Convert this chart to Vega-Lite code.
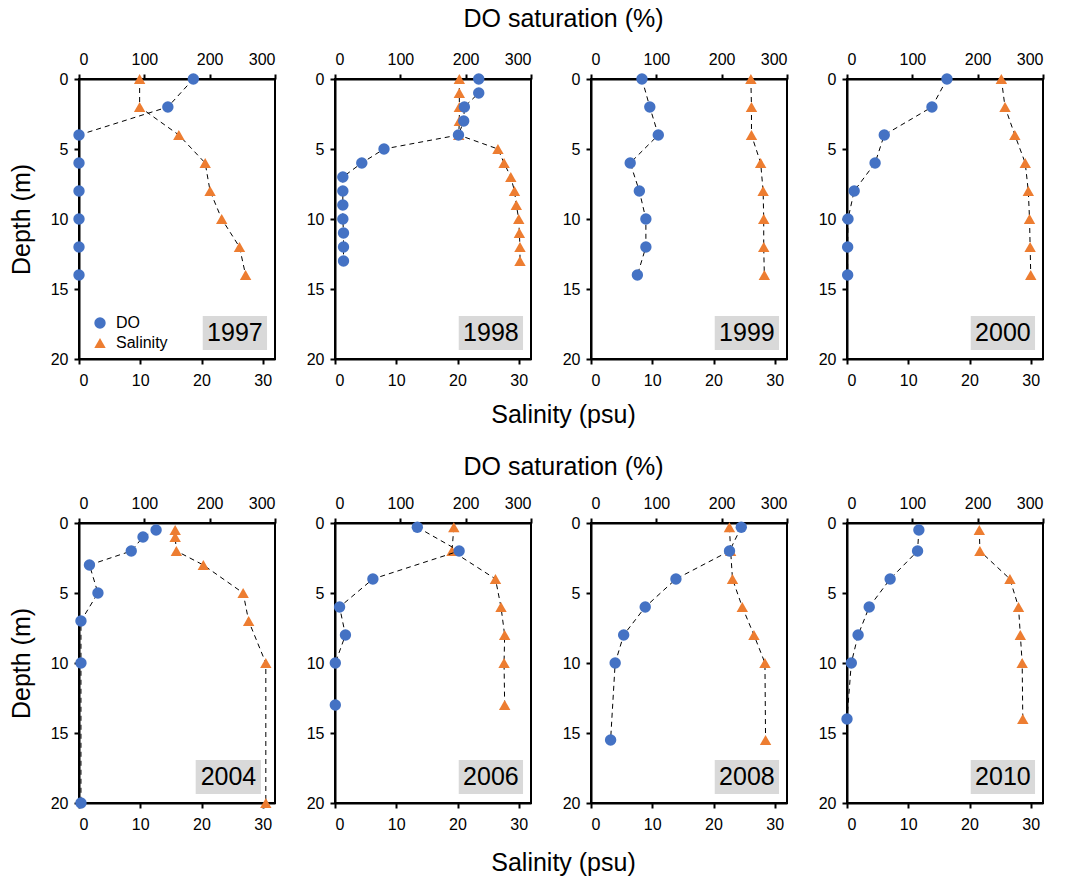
{
  "$schema": "https://vega.github.io/schema/vega-lite/v6.json",
  "padding": {"left": 8, "top": 5, "right": 5, "bottom": 5},
  "background": "white",
  "datasets": {
    "p": [
      {"year":1997,"var":"DO","depth":0,"value":175},{"year":1997,"var":"DO","depth":2,"value":136},{"year":1997,"var":"DO","depth":4,"value":0},{"year":1997,"var":"DO","depth":6,"value":0},{"year":1997,"var":"DO","depth":8,"value":0},{"year":1997,"var":"DO","depth":10,"value":0},{"year":1997,"var":"DO","depth":12,"value":0},{"year":1997,"var":"DO","depth":14,"value":0},
      {"year":1997,"var":"Salinity","depth":0,"value":9.9},{"year":1997,"var":"Salinity","depth":2,"value":9.9},{"year":1997,"var":"Salinity","depth":4,"value":16.3},{"year":1997,"var":"Salinity","depth":6,"value":20.6},{"year":1997,"var":"Salinity","depth":8,"value":21.4},{"year":1997,"var":"Salinity","depth":10,"value":23.3},{"year":1997,"var":"Salinity","depth":12,"value":26.2},{"year":1997,"var":"Salinity","depth":14,"value":27.2},
      {"year":1998,"var":"DO","depth":0,"value":220},{"year":1998,"var":"DO","depth":1,"value":220},{"year":1998,"var":"DO","depth":2,"value":198},{"year":1998,"var":"DO","depth":3,"value":197},{"year":1998,"var":"DO","depth":4,"value":189},{"year":1998,"var":"DO","depth":5,"value":75},{"year":1998,"var":"DO","depth":6,"value":41},{"year":1998,"var":"DO","depth":7,"value":12},{"year":1998,"var":"DO","depth":8,"value":12},{"year":1998,"var":"DO","depth":9,"value":12},{"year":1998,"var":"DO","depth":10,"value":12},{"year":1998,"var":"DO","depth":11,"value":13},{"year":1998,"var":"DO","depth":12,"value":13},{"year":1998,"var":"DO","depth":13,"value":13},
      {"year":1998,"var":"Salinity","depth":0,"value":20.3},{"year":1998,"var":"Salinity","depth":1,"value":20.3},{"year":1998,"var":"Salinity","depth":2,"value":20.3},{"year":1998,"var":"Salinity","depth":3,"value":20.3},{"year":1998,"var":"Salinity","depth":4,"value":20.2},{"year":1998,"var":"Salinity","depth":5,"value":26.6},{"year":1998,"var":"Salinity","depth":6,"value":27.6},{"year":1998,"var":"Salinity","depth":7,"value":28.7},{"year":1998,"var":"Salinity","depth":8,"value":29.3},{"year":1998,"var":"Salinity","depth":9,"value":29.6},{"year":1998,"var":"Salinity","depth":10,"value":30.0},{"year":1998,"var":"Salinity","depth":11,"value":30.1},{"year":1998,"var":"Salinity","depth":12,"value":30.2},{"year":1998,"var":"Salinity","depth":13,"value":30.2},
      {"year":1999,"var":"DO","depth":0,"value":78},{"year":1999,"var":"DO","depth":2,"value":90},{"year":1999,"var":"DO","depth":4,"value":103},{"year":1999,"var":"DO","depth":6,"value":60},{"year":1999,"var":"DO","depth":8,"value":74},{"year":1999,"var":"DO","depth":10,"value":84},{"year":1999,"var":"DO","depth":12,"value":84},{"year":1999,"var":"DO","depth":14,"value":71},
      {"year":1999,"var":"Salinity","depth":0,"value":26.1},{"year":1999,"var":"Salinity","depth":2,"value":26.2},{"year":1999,"var":"Salinity","depth":4,"value":26.2},{"year":1999,"var":"Salinity","depth":6,"value":27.7},{"year":1999,"var":"Salinity","depth":8,"value":28.1},{"year":1999,"var":"Salinity","depth":10,"value":28.2},{"year":1999,"var":"Salinity","depth":12,"value":28.2},{"year":1999,"var":"Salinity","depth":14,"value":28.3},
      {"year":2000,"var":"DO","depth":0,"value":153},{"year":2000,"var":"DO","depth":2,"value":130},{"year":2000,"var":"DO","depth":4,"value":57},{"year":2000,"var":"DO","depth":6,"value":43},{"year":2000,"var":"DO","depth":8,"value":11},{"year":2000,"var":"DO","depth":10,"value":1.5},{"year":2000,"var":"DO","depth":12,"value":1},{"year":2000,"var":"DO","depth":14,"value":1},
      {"year":2000,"var":"Salinity","depth":0,"value":25.2},{"year":2000,"var":"Salinity","depth":2,"value":25.8},{"year":2000,"var":"Salinity","depth":4,"value":27.4},{"year":2000,"var":"Salinity","depth":6,"value":29.1},{"year":2000,"var":"Salinity","depth":8,"value":29.6},{"year":2000,"var":"Salinity","depth":10,"value":29.8},{"year":2000,"var":"Salinity","depth":12,"value":29.9},{"year":2000,"var":"Salinity","depth":14,"value":30.0},
      {"year":2004,"var":"DO","depth":0.5,"value":118},{"year":2004,"var":"DO","depth":1,"value":98},{"year":2004,"var":"DO","depth":2,"value":80},{"year":2004,"var":"DO","depth":3,"value":16},{"year":2004,"var":"DO","depth":5,"value":29},{"year":2004,"var":"DO","depth":7,"value":3},{"year":2004,"var":"DO","depth":10,"value":3},{"year":2004,"var":"DO","depth":20,"value":3},
      {"year":2004,"var":"Salinity","depth":0.5,"value":15.7},{"year":2004,"var":"Salinity","depth":1,"value":15.7},{"year":2004,"var":"Salinity","depth":2,"value":15.9},{"year":2004,"var":"Salinity","depth":3,"value":20.3},{"year":2004,"var":"Salinity","depth":5,"value":26.8},{"year":2004,"var":"Salinity","depth":7,"value":27.7},{"year":2004,"var":"Salinity","depth":10,"value":30.5},{"year":2004,"var":"Salinity","depth":20,"value":30.5},
      {"year":2006,"var":"DO","depth":0.3,"value":126},{"year":2006,"var":"DO","depth":2,"value":190},{"year":2006,"var":"DO","depth":4,"value":58},{"year":2006,"var":"DO","depth":6,"value":7},{"year":2006,"var":"DO","depth":8,"value":16},{"year":2006,"var":"DO","depth":10,"value":0.5},{"year":2006,"var":"DO","depth":13,"value":0.5},
      {"year":2006,"var":"Salinity","depth":0.3,"value":19.4},{"year":2006,"var":"Salinity","depth":2,"value":19.1},{"year":2006,"var":"Salinity","depth":4,"value":26.2},{"year":2006,"var":"Salinity","depth":6,"value":27.1},{"year":2006,"var":"Salinity","depth":8,"value":27.7},{"year":2006,"var":"Salinity","depth":10,"value":27.6},{"year":2006,"var":"Salinity","depth":13,"value":27.7},
      {"year":2008,"var":"DO","depth":0.3,"value":230},{"year":2008,"var":"DO","depth":2,"value":212},{"year":2008,"var":"DO","depth":4,"value":130},{"year":2008,"var":"DO","depth":6,"value":83},{"year":2008,"var":"DO","depth":8,"value":50},{"year":2008,"var":"DO","depth":10,"value":37},{"year":2008,"var":"DO","depth":15.5,"value":30},
      {"year":2008,"var":"Salinity","depth":0.3,"value":22.6},{"year":2008,"var":"Salinity","depth":2,"value":22.8},{"year":2008,"var":"Salinity","depth":4,"value":23.1},{"year":2008,"var":"Salinity","depth":6,"value":24.7},{"year":2008,"var":"Salinity","depth":8,"value":26.6},{"year":2008,"var":"Salinity","depth":10,"value":28.4},{"year":2008,"var":"Salinity","depth":15.5,"value":28.5},
      {"year":2010,"var":"DO","depth":0.5,"value":110},{"year":2010,"var":"DO","depth":2,"value":108},{"year":2010,"var":"DO","depth":4,"value":66},{"year":2010,"var":"DO","depth":6,"value":34},{"year":2010,"var":"DO","depth":8,"value":17},{"year":2010,"var":"DO","depth":10,"value":6.6},{"year":2010,"var":"DO","depth":14,"value":0},
      {"year":2010,"var":"Salinity","depth":0.5,"value":21.6},{"year":2010,"var":"Salinity","depth":2,"value":21.7},{"year":2010,"var":"Salinity","depth":4,"value":26.6},{"year":2010,"var":"Salinity","depth":6,"value":28.0},{"year":2010,"var":"Salinity","depth":8,"value":28.3},{"year":2010,"var":"Salinity","depth":10,"value":28.6},{"year":2010,"var":"Salinity","depth":14,"value":28.7}
    ]
  },
  "columns": 4,
  "spacing": {"row": 164, "column": 60},
  "bounds": "flush",
  "concat": [
    {
      "width": 196, "height": 280, "data": {"name": "p"},
      "transform": [{"filter": "datum.year == 1997"}],
      "layer": [
        {"transform": [{"filter": "datum.var == 'Salinity'"}],
         "layer": [
           {"transform": [{"aggregate": [{"op": "count", "as": "n"}], "groupby": ["year"]}], "mark": {"type": "rect", "color": "#D9D9D9"}, "encoding": {"x": {"datum": 20.2}, "x2": {"datum": 30.7}, "y": {"datum": 16.93}, "y2": {"datum": 19.36}}},
           {"transform": [{"aggregate": [{"op": "count", "as": "n"}], "groupby": ["year"]}], "mark": {"type": "text", "fontSize": 25, "color": "black"}, "encoding": {"x": {"datum": 25.45}, "y": {"datum": 18.15}, "text": {"field": "year", "type": "nominal"}}},
           {"mark": "line", "encoding": {
             "x": {"field": "value", "type": "quantitative", "scale": {"domain": [0, 32], "nice": false}, "axis": {"orient": "bottom", "values": [0,10,20,30], "title": null}},
             "y": {"field": "depth", "type": "quantitative", "scale": {"domain": [0, 20], "reverse": true, "nice": false}, "axis": {"values": [0,5,10,15,20], "title": "Depth (m)", "titlePadding": 16}},
             "order": {"field": "depth"}}},
           {"mark": "point", "encoding": {
             "x": {"field": "value", "type": "quantitative", "scale": {"domain": [0, 32], "nice": false}, "axis": {"orient": "bottom", "values": [0,10,20,30], "title": null}},
             "y": {"field": "depth", "type": "quantitative", "scale": {"domain": [0, 20], "reverse": true, "nice": false}, "axis": {"values": [0,5,10,15,20], "title": "Depth (m)", "titlePadding": 16}},
             "color": {"field": "var", "type": "nominal", "scale": {"domain": ["DO","Salinity"], "range": ["#4472C4","#ED7D31"]}, "legend": {"orient": "none", "legendX": 13, "legendY": 236, "title": null, "labelFontSize": 16, "symbolSize": 130, "rowPadding": 3, "labelOffset": 8, "padding": 0}},
             "shape": {"field": "var", "type": "nominal", "scale": {"domain": ["DO","Salinity"], "range": ["circle","triangle-up"]}, "legend": {"orient": "none", "legendX": 13, "legendY": 236, "title": null, "labelFontSize": 16, "symbolSize": 130, "rowPadding": 3, "labelOffset": 8, "padding": 0}}}}
         ]},
        {"transform": [{"filter": "datum.var == 'DO'"}],
         "layer": [
           {"mark": "line", "encoding": {
             "x": {"field": "value", "type": "quantitative", "scale": {"domain": [0, 300], "nice": false}, "axis": {"orient": "top", "values": [0,100,200,300], "title": null, "labelPadding": 7}},
             "y": {"field": "depth", "type": "quantitative", "scale": {"domain": [0, 20], "reverse": true, "nice": false}, "axis": {"values": [0,5,10,15,20], "title": "Depth (m)", "titlePadding": 16}},
             "order": {"field": "depth"}}},
           {"mark": "point", "encoding": {
             "x": {"field": "value", "type": "quantitative", "scale": {"domain": [0, 300], "nice": false}, "axis": {"orient": "top", "values": [0,100,200,300], "title": null, "labelPadding": 7}},
             "y": {"field": "depth", "type": "quantitative", "scale": {"domain": [0, 20], "reverse": true, "nice": false}, "axis": {"values": [0,5,10,15,20], "title": "Depth (m)", "titlePadding": 16}},
             "color": {"field": "var", "type": "nominal"}, "shape": {"field": "var", "type": "nominal"}}}
         ]}
      ],
      "resolve": {"scale": {"x": "independent"}}
    },
    {
      "width": 196, "height": 280, "data": {"name": "p"},
      "transform": [{"filter": "datum.year == 1998"}],
      "layer": [
        {"transform": [{"filter": "datum.var == 'Salinity'"}],
         "layer": [
           {"transform": [{"aggregate": [{"op": "count", "as": "n"}], "groupby": ["year"]}], "mark": {"type": "rect", "color": "#D9D9D9"}, "encoding": {"x": {"datum": 20.2}, "x2": {"datum": 30.7}, "y": {"datum": 16.93}, "y2": {"datum": 19.36}}},
           {"transform": [{"aggregate": [{"op": "count", "as": "n"}], "groupby": ["year"]}], "mark": {"type": "text", "fontSize": 25, "color": "black"}, "encoding": {"x": {"datum": 25.45}, "y": {"datum": 18.15}, "text": {"field": "year", "type": "nominal"}}},
           {"mark": "line", "encoding": {
             "x": {"field": "value", "type": "quantitative", "scale": {"domain": [0, 32], "nice": false}, "axis": {"orient": "bottom", "values": [0,10,20,30], "title": "Salinity (psu)", "titleX": 228, "titleY": 55, "titleBaseline": "middle", "titleAlign": "center"}},
             "y": {"field": "depth", "type": "quantitative", "scale": {"domain": [0, 20], "reverse": true, "nice": false}, "axis": {"values": [0,5,10,15,20], "title": null}},
             "order": {"field": "depth"}}},
           {"mark": "point", "encoding": {
             "x": {"field": "value", "type": "quantitative", "scale": {"domain": [0, 32], "nice": false}, "axis": {"orient": "bottom", "values": [0,10,20,30], "title": "Salinity (psu)", "titleX": 228, "titleY": 55, "titleBaseline": "middle", "titleAlign": "center"}},
             "y": {"field": "depth", "type": "quantitative", "scale": {"domain": [0, 20], "reverse": true, "nice": false}, "axis": {"values": [0,5,10,15,20], "title": null}},
             "color": {"field": "var", "type": "nominal"}, "shape": {"field": "var", "type": "nominal"}}}
         ]},
        {"transform": [{"filter": "datum.var == 'DO'"}],
         "layer": [
           {"mark": "line", "encoding": {
             "x": {"field": "value", "type": "quantitative", "scale": {"domain": [0, 300], "nice": false}, "axis": {"orient": "top", "values": [0,100,200,300], "labelPadding": 7, "title": "DO saturation (%)", "titleX": 228, "titleY": -61, "titleBaseline": "middle", "titleAlign": "center"}},
             "y": {"field": "depth", "type": "quantitative", "scale": {"domain": [0, 20], "reverse": true, "nice": false}, "axis": {"values": [0,5,10,15,20], "title": null}},
             "order": {"field": "depth"}}},
           {"mark": "point", "encoding": {
             "x": {"field": "value", "type": "quantitative", "scale": {"domain": [0, 300], "nice": false}, "axis": {"orient": "top", "values": [0,100,200,300], "labelPadding": 7, "title": "DO saturation (%)", "titleX": 228, "titleY": -61, "titleBaseline": "middle", "titleAlign": "center"}},
             "y": {"field": "depth", "type": "quantitative", "scale": {"domain": [0, 20], "reverse": true, "nice": false}, "axis": {"values": [0,5,10,15,20], "title": null}},
             "color": {"field": "var", "type": "nominal"}, "shape": {"field": "var", "type": "nominal"}}}
         ]}
      ],
      "resolve": {"scale": {"x": "independent"}}
    },
    {
      "width": 196, "height": 280, "data": {"name": "p"},
      "transform": [{"filter": "datum.year == 1999"}],
      "layer": [
        {"transform": [{"filter": "datum.var == 'Salinity'"}],
         "layer": [
           {"transform": [{"aggregate": [{"op": "count", "as": "n"}], "groupby": ["year"]}], "mark": {"type": "rect", "color": "#D9D9D9"}, "encoding": {"x": {"datum": 20.2}, "x2": {"datum": 30.7}, "y": {"datum": 16.93}, "y2": {"datum": 19.36}}},
           {"transform": [{"aggregate": [{"op": "count", "as": "n"}], "groupby": ["year"]}], "mark": {"type": "text", "fontSize": 25, "color": "black"}, "encoding": {"x": {"datum": 25.45}, "y": {"datum": 18.15}, "text": {"field": "year", "type": "nominal"}}},
           {"mark": "line", "encoding": {
             "x": {"field": "value", "type": "quantitative", "scale": {"domain": [0, 32], "nice": false}, "axis": {"orient": "bottom", "values": [0,10,20,30], "title": null}},
             "y": {"field": "depth", "type": "quantitative", "scale": {"domain": [0, 20], "reverse": true, "nice": false}, "axis": {"values": [0,5,10,15,20], "title": null}},
             "order": {"field": "depth"}}},
           {"mark": "point", "encoding": {
             "x": {"field": "value", "type": "quantitative", "scale": {"domain": [0, 32], "nice": false}, "axis": {"orient": "bottom", "values": [0,10,20,30], "title": null}},
             "y": {"field": "depth", "type": "quantitative", "scale": {"domain": [0, 20], "reverse": true, "nice": false}, "axis": {"values": [0,5,10,15,20], "title": null}},
             "color": {"field": "var", "type": "nominal"}, "shape": {"field": "var", "type": "nominal"}}}
         ]},
        {"transform": [{"filter": "datum.var == 'DO'"}],
         "layer": [
           {"mark": "line", "encoding": {
             "x": {"field": "value", "type": "quantitative", "scale": {"domain": [0, 300], "nice": false}, "axis": {"orient": "top", "values": [0,100,200,300], "title": null, "labelPadding": 7}},
             "y": {"field": "depth", "type": "quantitative", "scale": {"domain": [0, 20], "reverse": true, "nice": false}, "axis": {"values": [0,5,10,15,20], "title": null}},
             "order": {"field": "depth"}}},
           {"mark": "point", "encoding": {
             "x": {"field": "value", "type": "quantitative", "scale": {"domain": [0, 300], "nice": false}, "axis": {"orient": "top", "values": [0,100,200,300], "title": null, "labelPadding": 7}},
             "y": {"field": "depth", "type": "quantitative", "scale": {"domain": [0, 20], "reverse": true, "nice": false}, "axis": {"values": [0,5,10,15,20], "title": null}},
             "color": {"field": "var", "type": "nominal"}, "shape": {"field": "var", "type": "nominal"}}}
         ]}
      ],
      "resolve": {"scale": {"x": "independent"}}
    },
    {
      "width": 196, "height": 280, "data": {"name": "p"},
      "transform": [{"filter": "datum.year == 2000"}],
      "layer": [
        {"transform": [{"filter": "datum.var == 'Salinity'"}],
         "layer": [
           {"transform": [{"aggregate": [{"op": "count", "as": "n"}], "groupby": ["year"]}], "mark": {"type": "rect", "color": "#D9D9D9"}, "encoding": {"x": {"datum": 20.2}, "x2": {"datum": 30.7}, "y": {"datum": 16.93}, "y2": {"datum": 19.36}}},
           {"transform": [{"aggregate": [{"op": "count", "as": "n"}], "groupby": ["year"]}], "mark": {"type": "text", "fontSize": 25, "color": "black"}, "encoding": {"x": {"datum": 25.45}, "y": {"datum": 18.15}, "text": {"field": "year", "type": "nominal"}}},
           {"mark": "line", "encoding": {
             "x": {"field": "value", "type": "quantitative", "scale": {"domain": [0, 32], "nice": false}, "axis": {"orient": "bottom", "values": [0,10,20,30], "title": null}},
             "y": {"field": "depth", "type": "quantitative", "scale": {"domain": [0, 20], "reverse": true, "nice": false}, "axis": {"values": [0,5,10,15,20], "title": null}},
             "order": {"field": "depth"}}},
           {"mark": "point", "encoding": {
             "x": {"field": "value", "type": "quantitative", "scale": {"domain": [0, 32], "nice": false}, "axis": {"orient": "bottom", "values": [0,10,20,30], "title": null}},
             "y": {"field": "depth", "type": "quantitative", "scale": {"domain": [0, 20], "reverse": true, "nice": false}, "axis": {"values": [0,5,10,15,20], "title": null}},
             "color": {"field": "var", "type": "nominal"}, "shape": {"field": "var", "type": "nominal"}}}
         ]},
        {"transform": [{"filter": "datum.var == 'DO'"}],
         "layer": [
           {"mark": "line", "encoding": {
             "x": {"field": "value", "type": "quantitative", "scale": {"domain": [0, 300], "nice": false}, "axis": {"orient": "top", "values": [0,100,200,300], "title": null, "labelPadding": 7}},
             "y": {"field": "depth", "type": "quantitative", "scale": {"domain": [0, 20], "reverse": true, "nice": false}, "axis": {"values": [0,5,10,15,20], "title": null}},
             "order": {"field": "depth"}}},
           {"mark": "point", "encoding": {
             "x": {"field": "value", "type": "quantitative", "scale": {"domain": [0, 300], "nice": false}, "axis": {"orient": "top", "values": [0,100,200,300], "title": null, "labelPadding": 7}},
             "y": {"field": "depth", "type": "quantitative", "scale": {"domain": [0, 20], "reverse": true, "nice": false}, "axis": {"values": [0,5,10,15,20], "title": null}},
             "color": {"field": "var", "type": "nominal"}, "shape": {"field": "var", "type": "nominal"}}}
         ]}
      ],
      "resolve": {"scale": {"x": "independent"}}
    },
    {
      "width": 196, "height": 280, "data": {"name": "p"},
      "transform": [{"filter": "datum.year == 2004"}],
      "layer": [
        {"transform": [{"filter": "datum.var == 'Salinity'"}],
         "layer": [
           {"transform": [{"aggregate": [{"op": "count", "as": "n"}], "groupby": ["year"]}], "mark": {"type": "rect", "color": "#D9D9D9"}, "encoding": {"x": {"datum": 19.05}, "x2": {"datum": 29.7}, "y": {"datum": 16.93}, "y2": {"datum": 19.36}}},
           {"transform": [{"aggregate": [{"op": "count", "as": "n"}], "groupby": ["year"]}], "mark": {"type": "text", "fontSize": 25, "color": "black"}, "encoding": {"x": {"datum": 24.4}, "y": {"datum": 18.15}, "text": {"field": "year", "type": "nominal"}}},
           {"mark": "line", "encoding": {
             "x": {"field": "value", "type": "quantitative", "scale": {"domain": [0, 32], "nice": false}, "axis": {"orient": "bottom", "values": [0,10,20,30], "title": null}},
             "y": {"field": "depth", "type": "quantitative", "scale": {"domain": [0, 20], "reverse": true, "nice": false}, "axis": {"values": [0,5,10,15,20], "title": "Depth (m)", "titlePadding": 16}},
             "order": {"field": "depth"}}},
           {"mark": "point", "encoding": {
             "x": {"field": "value", "type": "quantitative", "scale": {"domain": [0, 32], "nice": false}, "axis": {"orient": "bottom", "values": [0,10,20,30], "title": null}},
             "y": {"field": "depth", "type": "quantitative", "scale": {"domain": [0, 20], "reverse": true, "nice": false}, "axis": {"values": [0,5,10,15,20], "title": "Depth (m)", "titlePadding": 16}},
             "color": {"field": "var", "type": "nominal"}, "shape": {"field": "var", "type": "nominal"}}}
         ]},
        {"transform": [{"filter": "datum.var == 'DO'"}],
         "layer": [
           {"mark": "line", "encoding": {
             "x": {"field": "value", "type": "quantitative", "scale": {"domain": [0, 300], "nice": false}, "axis": {"orient": "top", "values": [0,100,200,300], "title": null, "labelPadding": 7}},
             "y": {"field": "depth", "type": "quantitative", "scale": {"domain": [0, 20], "reverse": true, "nice": false}, "axis": {"values": [0,5,10,15,20], "title": "Depth (m)", "titlePadding": 16}},
             "order": {"field": "depth"}}},
           {"mark": "point", "encoding": {
             "x": {"field": "value", "type": "quantitative", "scale": {"domain": [0, 300], "nice": false}, "axis": {"orient": "top", "values": [0,100,200,300], "title": null, "labelPadding": 7}},
             "y": {"field": "depth", "type": "quantitative", "scale": {"domain": [0, 20], "reverse": true, "nice": false}, "axis": {"values": [0,5,10,15,20], "title": "Depth (m)", "titlePadding": 16}},
             "color": {"field": "var", "type": "nominal"}, "shape": {"field": "var", "type": "nominal"}}}
         ]}
      ],
      "resolve": {"scale": {"x": "independent"}}
    },
    {
      "width": 196, "height": 280, "data": {"name": "p"},
      "transform": [{"filter": "datum.year == 2006"}],
      "layer": [
        {"transform": [{"filter": "datum.var == 'Salinity'"}],
         "layer": [
           {"transform": [{"aggregate": [{"op": "count", "as": "n"}], "groupby": ["year"]}], "mark": {"type": "rect", "color": "#D9D9D9"}, "encoding": {"x": {"datum": 20.2}, "x2": {"datum": 30.7}, "y": {"datum": 16.93}, "y2": {"datum": 19.36}}},
           {"transform": [{"aggregate": [{"op": "count", "as": "n"}], "groupby": ["year"]}], "mark": {"type": "text", "fontSize": 25, "color": "black"}, "encoding": {"x": {"datum": 25.45}, "y": {"datum": 18.15}, "text": {"field": "year", "type": "nominal"}}},
           {"mark": "line", "encoding": {
             "x": {"field": "value", "type": "quantitative", "scale": {"domain": [0, 32], "nice": false}, "axis": {"orient": "bottom", "values": [0,10,20,30], "title": "Salinity (psu)", "titleX": 228, "titleY": 59, "titleBaseline": "middle", "titleAlign": "center"}},
             "y": {"field": "depth", "type": "quantitative", "scale": {"domain": [0, 20], "reverse": true, "nice": false}, "axis": {"values": [0,5,10,15,20], "title": null}},
             "order": {"field": "depth"}}},
           {"mark": "point", "encoding": {
             "x": {"field": "value", "type": "quantitative", "scale": {"domain": [0, 32], "nice": false}, "axis": {"orient": "bottom", "values": [0,10,20,30], "title": "Salinity (psu)", "titleX": 228, "titleY": 59, "titleBaseline": "middle", "titleAlign": "center"}},
             "y": {"field": "depth", "type": "quantitative", "scale": {"domain": [0, 20], "reverse": true, "nice": false}, "axis": {"values": [0,5,10,15,20], "title": null}},
             "color": {"field": "var", "type": "nominal"}, "shape": {"field": "var", "type": "nominal"}}}
         ]},
        {"transform": [{"filter": "datum.var == 'DO'"}],
         "layer": [
           {"mark": "line", "encoding": {
             "x": {"field": "value", "type": "quantitative", "scale": {"domain": [0, 300], "nice": false}, "axis": {"orient": "top", "values": [0,100,200,300], "labelPadding": 7, "title": "DO saturation (%)", "titleX": 228, "titleY": -57, "titleBaseline": "middle", "titleAlign": "center"}},
             "y": {"field": "depth", "type": "quantitative", "scale": {"domain": [0, 20], "reverse": true, "nice": false}, "axis": {"values": [0,5,10,15,20], "title": null}},
             "order": {"field": "depth"}}},
           {"mark": "point", "encoding": {
             "x": {"field": "value", "type": "quantitative", "scale": {"domain": [0, 300], "nice": false}, "axis": {"orient": "top", "values": [0,100,200,300], "labelPadding": 7, "title": "DO saturation (%)", "titleX": 228, "titleY": -57, "titleBaseline": "middle", "titleAlign": "center"}},
             "y": {"field": "depth", "type": "quantitative", "scale": {"domain": [0, 20], "reverse": true, "nice": false}, "axis": {"values": [0,5,10,15,20], "title": null}},
             "color": {"field": "var", "type": "nominal"}, "shape": {"field": "var", "type": "nominal"}}}
         ]}
      ],
      "resolve": {"scale": {"x": "independent"}}
    },
    {
      "width": 196, "height": 280, "data": {"name": "p"},
      "transform": [{"filter": "datum.year == 2008"}],
      "layer": [
        {"transform": [{"filter": "datum.var == 'Salinity'"}],
         "layer": [
           {"transform": [{"aggregate": [{"op": "count", "as": "n"}], "groupby": ["year"]}], "mark": {"type": "rect", "color": "#D9D9D9"}, "encoding": {"x": {"datum": 20.2}, "x2": {"datum": 30.7}, "y": {"datum": 16.93}, "y2": {"datum": 19.36}}},
           {"transform": [{"aggregate": [{"op": "count", "as": "n"}], "groupby": ["year"]}], "mark": {"type": "text", "fontSize": 25, "color": "black"}, "encoding": {"x": {"datum": 25.45}, "y": {"datum": 18.15}, "text": {"field": "year", "type": "nominal"}}},
           {"mark": "line", "encoding": {
             "x": {"field": "value", "type": "quantitative", "scale": {"domain": [0, 32], "nice": false}, "axis": {"orient": "bottom", "values": [0,10,20,30], "title": null}},
             "y": {"field": "depth", "type": "quantitative", "scale": {"domain": [0, 20], "reverse": true, "nice": false}, "axis": {"values": [0,5,10,15,20], "title": null}},
             "order": {"field": "depth"}}},
           {"mark": "point", "encoding": {
             "x": {"field": "value", "type": "quantitative", "scale": {"domain": [0, 32], "nice": false}, "axis": {"orient": "bottom", "values": [0,10,20,30], "title": null}},
             "y": {"field": "depth", "type": "quantitative", "scale": {"domain": [0, 20], "reverse": true, "nice": false}, "axis": {"values": [0,5,10,15,20], "title": null}},
             "color": {"field": "var", "type": "nominal"}, "shape": {"field": "var", "type": "nominal"}}}
         ]},
        {"transform": [{"filter": "datum.var == 'DO'"}],
         "layer": [
           {"mark": "line", "encoding": {
             "x": {"field": "value", "type": "quantitative", "scale": {"domain": [0, 300], "nice": false}, "axis": {"orient": "top", "values": [0,100,200,300], "title": null, "labelPadding": 7}},
             "y": {"field": "depth", "type": "quantitative", "scale": {"domain": [0, 20], "reverse": true, "nice": false}, "axis": {"values": [0,5,10,15,20], "title": null}},
             "order": {"field": "depth"}}},
           {"mark": "point", "encoding": {
             "x": {"field": "value", "type": "quantitative", "scale": {"domain": [0, 300], "nice": false}, "axis": {"orient": "top", "values": [0,100,200,300], "title": null, "labelPadding": 7}},
             "y": {"field": "depth", "type": "quantitative", "scale": {"domain": [0, 20], "reverse": true, "nice": false}, "axis": {"values": [0,5,10,15,20], "title": null}},
             "color": {"field": "var", "type": "nominal"}, "shape": {"field": "var", "type": "nominal"}}}
         ]}
      ],
      "resolve": {"scale": {"x": "independent"}}
    },
    {
      "width": 196, "height": 280, "data": {"name": "p"},
      "transform": [{"filter": "datum.year == 2010"}],
      "layer": [
        {"transform": [{"filter": "datum.var == 'Salinity'"}],
         "layer": [
           {"transform": [{"aggregate": [{"op": "count", "as": "n"}], "groupby": ["year"]}], "mark": {"type": "rect", "color": "#D9D9D9"}, "encoding": {"x": {"datum": 20.2}, "x2": {"datum": 30.7}, "y": {"datum": 16.93}, "y2": {"datum": 19.36}}},
           {"transform": [{"aggregate": [{"op": "count", "as": "n"}], "groupby": ["year"]}], "mark": {"type": "text", "fontSize": 25, "color": "black"}, "encoding": {"x": {"datum": 25.45}, "y": {"datum": 18.15}, "text": {"field": "year", "type": "nominal"}}},
           {"mark": "line", "encoding": {
             "x": {"field": "value", "type": "quantitative", "scale": {"domain": [0, 32], "nice": false}, "axis": {"orient": "bottom", "values": [0,10,20,30], "title": null}},
             "y": {"field": "depth", "type": "quantitative", "scale": {"domain": [0, 20], "reverse": true, "nice": false}, "axis": {"values": [0,5,10,15,20], "title": null}},
             "order": {"field": "depth"}}},
           {"mark": "point", "encoding": {
             "x": {"field": "value", "type": "quantitative", "scale": {"domain": [0, 32], "nice": false}, "axis": {"orient": "bottom", "values": [0,10,20,30], "title": null}},
             "y": {"field": "depth", "type": "quantitative", "scale": {"domain": [0, 20], "reverse": true, "nice": false}, "axis": {"values": [0,5,10,15,20], "title": null}},
             "color": {"field": "var", "type": "nominal"}, "shape": {"field": "var", "type": "nominal"}}}
         ]},
        {"transform": [{"filter": "datum.var == 'DO'"}],
         "layer": [
           {"mark": "line", "encoding": {
             "x": {"field": "value", "type": "quantitative", "scale": {"domain": [0, 300], "nice": false}, "axis": {"orient": "top", "values": [0,100,200,300], "title": null, "labelPadding": 7}},
             "y": {"field": "depth", "type": "quantitative", "scale": {"domain": [0, 20], "reverse": true, "nice": false}, "axis": {"values": [0,5,10,15,20], "title": null}},
             "order": {"field": "depth"}}},
           {"mark": "point", "encoding": {
             "x": {"field": "value", "type": "quantitative", "scale": {"domain": [0, 300], "nice": false}, "axis": {"orient": "top", "values": [0,100,200,300], "title": null, "labelPadding": 7}},
             "y": {"field": "depth", "type": "quantitative", "scale": {"domain": [0, 20], "reverse": true, "nice": false}, "axis": {"values": [0,5,10,15,20], "title": null}},
             "color": {"field": "var", "type": "nominal"}, "shape": {"field": "var", "type": "nominal"}}}
         ]}
      ],
      "resolve": {"scale": {"x": "independent"}}
    }
  ],
  "config": {
    "font": "Liberation Sans",
    "view": {"stroke": "black", "strokeWidth": 2},
    "line": {"color": "black", "strokeWidth": 1, "strokeDash": [5, 4]},
    "point": {"filled": true, "size": 130, "opacity": 1},
    "axis": {"grid": false, "domainColor": "black", "domainWidth": 2, "tickColor": "black", "tickWidth": 2, "tickSize": 5, "labelFontSize": 16, "labelColor": "black", "labelPadding": 6, "titleFontSize": 25, "titleFontWeight": "normal", "titleColor": "black"},
    "axisBottom": {"labelPadding": 8},
    "legend": {"labelColor": "black", "labelFontSize": 16}
  }
}
